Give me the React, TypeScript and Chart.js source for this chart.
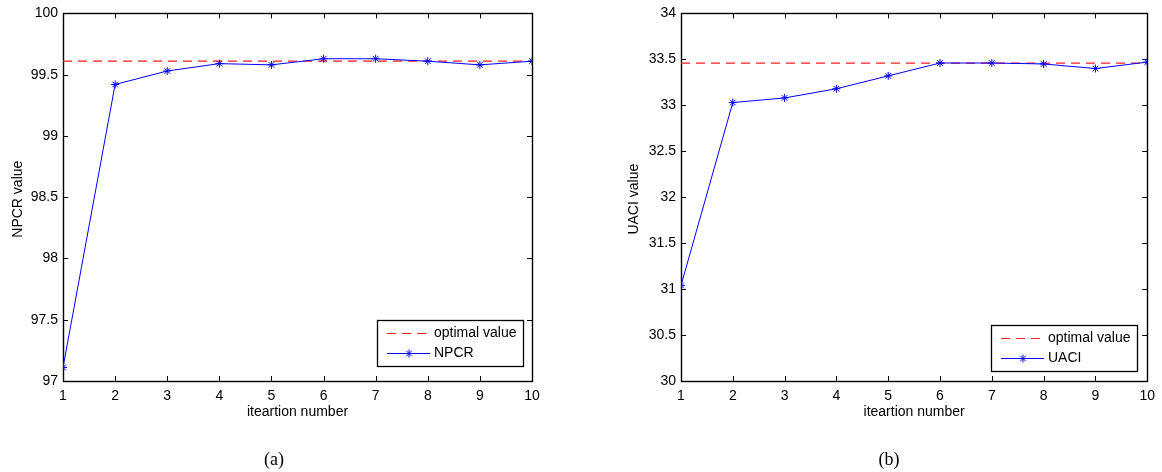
import React, { useEffect, useRef } from "react";
import { Chart, registerables } from "chart.js";

Chart.register(...registerables);

// ---------- data ----------
const iterations = [1, 2, 3, 4, 5, 6, 7, 8, 9, 10];
const npcrValues = [97.11, 99.42, 99.53, 99.59, 99.58, 99.63, 99.63, 99.61, 99.58, 99.61];
const npcrOptimal = [99.61, 99.61, 99.61, 99.61, 99.61, 99.61, 99.61, 99.61, 99.61, 99.61];
const uaciValues = [31.04, 33.03, 33.08, 33.18, 33.32, 33.46, 33.46, 33.45, 33.4, 33.47];
const uaciOptimal = [33.46, 33.46, 33.46, 33.46, 33.46, 33.46, 33.46, 33.46, 33.46, 33.46];
const xTickValues = [1, 2, 3, 4, 5, 6, 7, 8, 9, 10];
const npcrYTicks = [97, 97.5, 98, 98.5, 99, 99.5, 100];
const uaciYTicks = [30, 30.5, 31, 31.5, 32, 32.5, 33, 33.5, 34];

const FONT = '"Liberation Sans", Arial, Helvetica, sans-serif';
const RED = "rgb(255,30,30)";
const BLUE = "rgb(0,0,255)";

type PanelCfg = {
  values: number[];
  optimal: number[];
  yTicks: number[];
  seriesName: string;
  yTitle: string;
  padRight: number;
  yAxisWidth: number;
  yTitleOffset: number;
  legendRightInset: number;
  legendBottomInset: number;
};

function drawStar(ctx: CanvasRenderingContext2D, x: number, y: number, r: number) {
  ctx.beginPath();
  for (let k = 0; k < 4; k++) {
    const a = (k * Math.PI) / 4;
    const dx = Math.cos(a) * r;
    const dy = Math.sin(a) * r;
    ctx.moveTo(x - dx, y - dy);
    ctx.lineTo(x + dx, y + dy);
  }
  ctx.stroke();
}

function Panel({ cfg }: { cfg: PanelCfg }) {
  const ref = useRef<HTMLCanvasElement | null>(null);
  useEffect(() => {
    if (!ref.current) return;
    const framePlugin = {
      id: "frame",
      beforeDatasetsDraw(chart: any) {
        const ctx: CanvasRenderingContext2D = chart.ctx;
        const { left, right, top, bottom } = chart.chartArea;
        const xs = chart.scales.x;
        const ys = chart.scales.y;
        ctx.save();
        ctx.strokeStyle = "#000";
        ctx.lineWidth = 1;
        ctx.beginPath();
        for (const v of xTickValues) {
          const px = Math.round(xs.getPixelForValue(v)) + 0.5;
          ctx.moveTo(px, bottom);
          ctx.lineTo(px, bottom - 5);
          ctx.moveTo(px, top);
          ctx.lineTo(px, top + 5);
        }
        for (const v of cfg.yTicks) {
          const py = Math.round(ys.getPixelForValue(v)) + 0.5;
          ctx.moveTo(left, py);
          ctx.lineTo(left + 5, py);
          ctx.moveTo(right, py);
          ctx.lineTo(right - 5, py);
        }
        ctx.stroke();
        ctx.lineWidth = 1.4;
        ctx.strokeRect(Math.round(left) + 0.5, Math.round(top) + 0.5, Math.round(right - left), Math.round(bottom - top));
        ctx.restore();
      },
      afterDraw(chart: any) {
        const ctx: CanvasRenderingContext2D = chart.ctx;
        const { left, right, top, bottom } = chart.chartArea;
        ctx.save();
        // axis titles
        ctx.fillStyle = "#000";
        ctx.font = `14px ${FONT}`;
        ctx.textAlign = "center";
        ctx.textBaseline = "middle";
        ctx.fillText("iteartion number", (left + right) / 2, bottom + 31);
        ctx.save();
        ctx.translate(left - cfg.yTitleOffset, (top + bottom) / 2 + 2);
        ctx.rotate(-Math.PI / 2);
        ctx.fillText(cfg.yTitle, 0, 0);
        ctx.restore();
        // legend
        const bw = 146;
        const bh = 46;
        const bx0 = Math.round(right - cfg.legendRightInset - bw);
        const by0 = Math.round(bottom - cfg.legendBottomInset - bh);
        ctx.fillStyle = "#fff";
        ctx.fillRect(bx0, by0, bw, bh);
        ctx.strokeStyle = "#000";
        ctx.lineWidth = 1.3;
        ctx.strokeRect(bx0 + 0.5, by0 + 0.5, bw, bh);
        // row 1: dashed red sample
        ctx.fillStyle = RED;
        for (let x = bx0 + 10; x < bx0 + 54; x += 15) {
          ctx.fillRect(x, by0 + 13, Math.min(9, bx0 + 54 - x), 1);
        }
        // row 2: blue line with star
        ctx.lineWidth = 1;
        ctx.strokeStyle = BLUE;
        ctx.beginPath();
        ctx.moveTo(bx0 + 10, by0 + 33.5);
        ctx.lineTo(bx0 + 53, by0 + 33.5);
        ctx.stroke();
        drawStar(ctx, bx0 + 32, by0 + 33.5, 4);
        ctx.fillStyle = "#000";
        ctx.textAlign = "left";
        ctx.textBaseline = "middle";
        ctx.fillText("optimal value", bx0 + 57, by0 + 13.5);
        ctx.fillText(cfg.seriesName, bx0 + 57, by0 + 33.5);
        ctx.restore();
      },
    };

    const chart = new Chart(ref.current, {
      type: "line",
      data: {
        datasets: [
          {
            label: "optimal value",
            data: iterations.map((x, i) => ({ x, y: cfg.optimal[i] })),
            borderColor: RED,
            borderWidth: 1.2,
            borderDash: [9, 6],
            pointRadius: 0,
            fill: false,
            order: 2,
          },
          {
            label: cfg.seriesName,
            data: iterations.map((x, i) => ({ x, y: cfg.values[i] })),
            borderColor: BLUE,
            borderWidth: 1,
            pointStyle: "star",
            pointRadius: 4,
            pointBorderColor: BLUE,
            pointBorderWidth: 1,
            fill: false,
            tension: 0,
            order: 1,
          },
        ],
      },
      options: {
        animation: false,
        responsive: false,
        devicePixelRatio: 1,
        layout: { padding: { left: 0, right: cfg.padRight, top: 12, bottom: 0 } },
        plugins: { legend: { display: false }, tooltip: { enabled: false } },
        scales: {
          x: {
            type: "linear",
            min: 1,
            max: 10,
            grid: { display: false, drawTicks: false },
            border: { display: false },
            afterBuildTicks: (s: any) => {
              s.ticks = xTickValues.map((v) => ({ value: v }));
            },
            afterFit: (s: any) => {
              s.height = 91;
            },
            ticks: {
              color: "#000",
              font: { family: FONT, size: 14 },
              padding: 7,
              maxRotation: 0,
              autoSkip: false,
              callback: (v: any) => String(v),
            },
          },
          y: {
            type: "linear",
            min: cfg.yTicks[0],
            max: cfg.yTicks[cfg.yTicks.length - 1],
            grid: { display: false, drawTicks: false },
            border: { display: false },
            afterBuildTicks: (s: any) => {
              s.ticks = cfg.yTicks.map((v) => ({ value: v }));
            },
            afterFit: (s: any) => {
              s.width = cfg.yAxisWidth;
            },
            ticks: {
              color: "#000",
              font: { family: FONT, size: 14 },
              padding: 5,
              autoSkip: false,
              callback: (v: any) => String(v),
            },
          },
        },
      },
      plugins: [framePlugin],
    } as any);
    return () => chart.destroy();
  }, [cfg]);
  return <canvas ref={ref} width={581} height={472} style={{ width: 581, height: 472, display: "block" }} />;
}

const leftCfg: PanelCfg = {
  values: npcrValues,
  optimal: npcrOptimal,
  yTicks: npcrYTicks,
  seriesName: "NPCR",
  yTitle: "NPCR value",
  padRight: 49,
  yAxisWidth: 63,
  yTitleOffset: 45,
  legendRightInset: 9,
  legendBottomInset: 15,
};

const rightCfg: PanelCfg = {
  values: uaciValues,
  optimal: uaciOptimal,
  yTicks: uaciYTicks,
  seriesName: "UACI",
  yTitle: "UACI value",
  padRight: 13,
  yAxisWidth: 100,
  yTitleOffset: 47,
  legendRightInset: 10,
  legendBottomInset: 10,
};

export default function App() {
  const cap: React.CSSProperties = {
    position: "absolute",
    top: 448,
    width: 60,
    marginLeft: -30,
    textAlign: "center",
    fontFamily: '"Liberation Serif", "Times New Roman", serif',
    fontSize: 18,
    lineHeight: "22px",
    color: "#000",
  };
  return (
    <div style={{ position: "fixed", left: 0, top: 0, width: 1162, height: 472, background: "#fff", overflow: "hidden" }}>
      <div style={{ position: "absolute", left: 0, top: 0 }}>
        <Panel cfg={leftCfg} />
      </div>
      <div style={{ position: "absolute", left: 581, top: 0 }}>
        <Panel cfg={rightCfg} />
      </div>
      <div style={{ ...cap, left: 274 }}>(a)</div>
      <div style={{ ...cap, left: 889 }}>(b)</div>
    </div>
  );
}
